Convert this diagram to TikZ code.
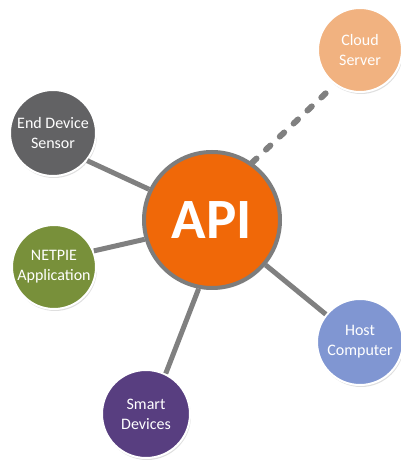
\documentclass[tikz,border=0pt]{standalone}
\usepackage{fontspec}
\setmainfont{Carlito}
\usetikzlibrary{shadows}
\definecolor{apiorange}{RGB}{240,104,8}
\definecolor{ringgray}{RGB}{125,125,125}
\definecolor{linkgray}{RGB}{128,128,128}
\definecolor{cloudorange}{RGB}{241,178,128}
\definecolor{sensorgray}{RGB}{98,98,100}
\definecolor{netpiegreen}{RGB}{120,144,58}
\definecolor{hostblue}{RGB}{128,150,210}
\definecolor{smartpurple}{RGB}{88,62,128}
\begin{document}
\begin{tikzpicture}[x=1pt,y=1pt]
			\tikzstyle{every node}+=[inner sep=0pt]
			\tikzstyle{hub}=[circle, fill=apiorange, draw=ringgray, line width=4pt, minimum size=136pt, text=white, font=\fontsize{57}{60}\selectfont\bfseries, drop shadow={opacity=0.25, shadow xshift=1pt, shadow yshift=-2pt}]
			\tikzstyle{device}=[circle, draw=white, line width=2pt, text=white, align=center, font=\fontsize{16}{20}\selectfont, drop shadow={opacity=0.25, shadow xshift=1pt, shadow yshift=-2pt}]
			\tikzstyle{link}=[draw=linkgray, line width=5pt]
			\useasboundingbox (0,0) rectangle (401,460);
			\node [hub] (api) at (212,240) {API};
			\node [device, fill=cloudorange, minimum size=84pt] (cloud) at (360,410) {Cloud\\Server};
			\node [device, fill=sensorgray, minimum size=86pt] (sensor) at (53,327) {End Device\\Sensor};
			\node [device, fill=netpiegreen, minimum size=84pt] (netpie) at (54,193) {NETPIE\\Application};
			\node [device, fill=hostblue, minimum size=86pt] (host) at (360,118) {Host\\Computer};
			\node [device, fill=smartpurple, minimum size=88pt] (smart) at (146,46) {Smart\\Devices};
			\draw [link, line width=6pt, line cap=round, dash pattern=on 6pt off 13pt] (api.55) -- (cloud.234);
			\draw [link] (sensor.-39) -- (api.154);
			\draw [link] (netpie.22) -- (api.196);
			\draw [link] (smart.64) -- (api.259);
			\draw [link] (host.141) -- (api.-40);
		\end{tikzpicture}
\end{document}
